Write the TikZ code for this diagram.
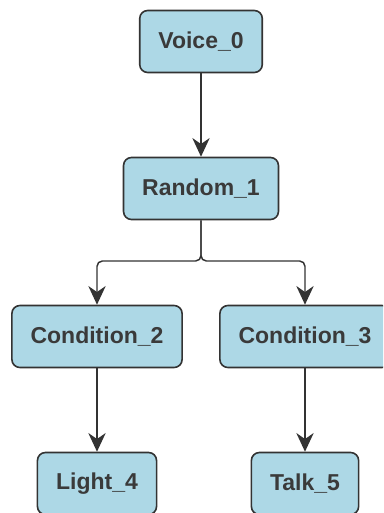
\documentclass[tikz,border=0pt]{standalone}
\usepackage{fontspec}
\setmainfont{Liberation Sans}
\usetikzlibrary{arrows.meta}

\definecolor{boxfill}{RGB}{173,216,230}
\definecolor{boxline}{RGB}{51,51,51}
\definecolor{boxtext}{RGB}{58,58,58}

\tikzset{every picture/.style={line width=0.75pt}}
\tikzset{
	treebox/.style={draw=boxline, fill=boxfill, line width=1.2pt, rounded corners=6pt,
		inner xsep=14pt, minimum height=46.5pt, text=boxtext,
		font=\fontsize{17.25}{20}\selectfont\bfseries},
	treearrow/.style={draw=boxline, line width=1.1pt, rounded corners=4pt,
		-{Stealth[length=14pt,width=13pt,inset=4.5pt]}}}

\begin{document}
\begin{tikzpicture}[x=0.75pt,y=0.75pt,yscale=-1,xscale=1]
	%set diagram size to the page
	\useasboundingbox (0,0) rectangle (383,513);
	\clip (0,0) rectangle (383,513);

	% Root
	\node [treebox] (voice) at (201,41.5) {Voice\_0};
	% Random selector
	\node [treebox] (random) at (201,188.5) {Random\_1};
	% Conditions
	\node [treebox] (cond2) at (97,336.5) {Condition\_2};
	\node [treebox] (cond3) at (305,336.5) {Condition\_3};
	% Leaves
	\node [treebox] (light) at (97,483.5) {Light\_4};
	\node [treebox] (talk) at (305,483.5) {Talk\_5};

	% Branch point under Random_1
	\coordinate (split) at (201,261);

	%Connectors
	\draw [treearrow] (voice) -- (random);
	\draw [treearrow] (random) -- (split) -| (cond2);
	\draw [treearrow] (random) -- (split) -| (cond3);
	\draw [treearrow] (cond2) -- (light);
	\draw [treearrow] (cond3) -- (talk);

\end{tikzpicture}
\end{document}
